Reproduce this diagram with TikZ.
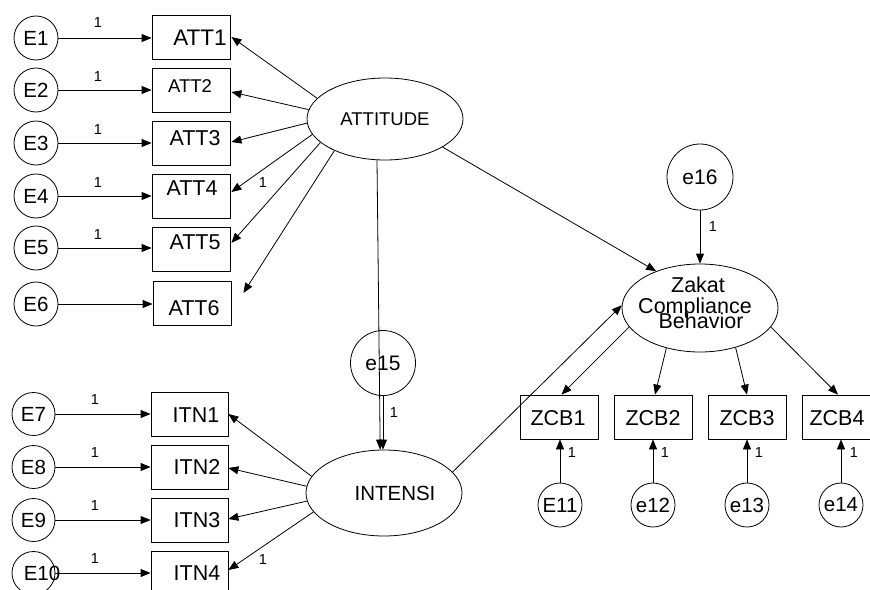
\documentclass[tikz,border=0pt]{standalone}
\usepackage{fontspec}
\setmainfont{Liberation Sans}
\usetikzlibrary{arrows.meta,calc,shapes.geometric}
\begin{document}
\begin{tikzpicture}[x=1pt,y=-1pt,
  every node/.style={inner sep=0pt},
  obs/.style={draw, rectangle, minimum width=78pt, minimum height=44pt, line width=0.8pt},
  errc/.style={draw, circle, minimum size=44pt, line width=0.8pt, font=\fontsize{20.5}{22}\selectfont},
  bigc/.style={draw, circle, minimum size=65pt, line width=0.8pt, font=\fontsize{21}{22}\selectfont},
  lat/.style={draw, ellipse, minimum width=156pt, line width=0.8pt},
  txt/.style={font=\fontsize{21.5}{22}\selectfont},
  one/.style={font=\fontsize{14.5}{16}\selectfont},
  arr/.style={line width=0.8pt, -{Triangle[length=10pt,width=8pt]}}]
\useasboundingbox (0,0) rectangle (870,589);
\fill[white] (0,0) rectangle (870,589);

% ATTITUDE block
\node[lat, minimum height=82pt, font=\fontsize{18.5}{20}\selectfont] (attitude) at (385,119) {ATTITUDE};
\foreach \i/\y in {1/38,2/90,3/143,4/196,5/248,6/304}{
  \node[errc] (e\i) at (36,\y) {E\i};
}
\node[obs] (att1) at (191,37) {};
\node[obs] (att2) at (191,90) {};
\node[obs] (att3) at (191,143.5) {};
\node[obs] (att4) at (191,196) {};
\node[obs] (att5) at (191,249) {};
\node[obs] (att6) at (192,303.5) {};
\node[font=\fontsize{22.5}{24}\selectfont] (tatt1) at (200,38) {ATT1};
\node[font=\fontsize{18.5}{20}\selectfont] (tatt2) at (190,86) {ATT2};
\node[txt] (tatt3) at (195,138) {ATT3};
\node[txt] (tatt4) at (192,188) {ATT4};
\node[txt] (tatt5) at (195,242) {ATT5};
\node[txt] (tatt6) at (194,308) {ATT6};
\foreach \i in {1,...,6}{
  \draw[arr] (e\i.east) -- (e\i.east -| att\i.west);
}
\foreach \i/\y in {1/23,2/77,3/130,4/183,5/235}{
  \node[one] (l\i) at (98,\y) {1};
}
\draw[arr] (attitude.163) -- ($(att1.east)+(1,0)$);
\draw[arr] (attitude.173) -- ($(att2.east)+(1,2)$);
\draw[arr] (attitude.183) -- ($(att3.east)+(1,-1.5)$);
\draw[arr] (attitude.192) -- ($(att4.east)+(1,-4)$);
\draw[arr] (attitude.200) -- ($(att5.east)+(1,-6)$);
\coordinate (att6tip) at ($(att6.east)+(12,-10.5)$);
\draw[arr] (attitude.212) -- (att6tip);
\node[one] (l4b) at (263,183) {1};

% INTENSI block
\node[lat, minimum height=86pt] (intensi) at (384,493) {};
\node[font=\fontsize{20.5}{22}\selectfont] (tintensi) at (395,493) {INTENSI};
\node[bigc] (e15) at (383,363) {e15};
\node[errc, minimum size=43pt] (e7) at (33.5,414) {E7};
\node[errc, minimum size=43pt] (e8) at (33.5,467) {E8};
\node[errc, minimum size=43pt] (e9) at (33.5,520) {E9};
\node[errc, minimum size=43pt] (e10) at (33.5,573) {};
\node[font=\fontsize{20.5}{22}\selectfont] (te10) at (42,573) {E10};
\node[obs, minimum width=77pt] (itn1) at (189.5,414) {};
\node[obs, minimum width=77pt] (itn2) at (189.5,467) {};
\node[obs, minimum width=77pt] (itn3) at (189.5,520) {};
\node[obs, minimum width=77pt] (itn4) at (189.5,573) {};
\node[txt] (titn1) at (196,415) {ITN1};
\node[txt] (titn2) at (197,467) {ITN2};
\node[txt] (titn3) at (197,520) {ITN3};
\node[txt] (titn4) at (197,573) {ITN4};
\foreach \a/\b in {7/1,8/2,9/3,10/4}{
  \draw[arr] (e\a.east) -- (e\a.east -| itn\b.west);
}
\foreach \i/\y in {1/400,2/453,3/506,4/559}{
  \node[one] (m\i) at (95,\y) {1};
}
\draw[arr] (intensi.167) -- (itn1.east);
\draw[arr] (intensi.175) -- ($(itn2.east)+(0,1)$);
\draw[arr] (intensi.186) -- ($(itn3.east)+(0,-1)$);
\draw[arr] (intensi.195) -- ($(itn4.east)+(0,-3)$);
\node[one] (m4b) at (263,560) {1};

\draw[arr] (attitude.259) -- (intensi.95);
\draw[arr] (e15.south) -- (e15.south |- intensi.north);
\node[one] (l15) at (394,413) {1};

% Zakat block
\node[lat, minimum height=88pt] (zakat) at (700,308) {};
\node[txt, anchor=base] (tz1) at (698,292) {Zakat};
\node[txt, anchor=base] (tz2) at (695,313) {Compliance};
\node[txt, anchor=base] (tz3) at (701,328) {Behavior};
\node[bigc, minimum size=66pt] (e16) at (700,177) {e16};
\draw[arr] (e16.south) -- (zakat.north);
\node[one] (l16) at (713,227) {1};
\draw[arr] (attitude.334) -- (zakat.140);
\draw[arr] (intensi.17) -- (zakat.178);

\node[obs] (zcb1) at (559.5,417) {};
\node[obs] (zcb2) at (653,417) {};
\node[obs] (zcb3) at (747,417) {};
\node[obs] (zcb4) at (841,417) {};
\node[txt] (tzcb1) at (558,418) {ZCB1};
\node[txt] (tzcb2) at (653,418) {ZCB2};
\node[txt] (tzcb3) at (747,418) {ZCB3};
\node[txt] (tzcb4) at (837,418) {ZCB4};
\node[errc] (e11) at (560,505) {E11};
\node[errc] (e12) at (653,505) {e12};
\node[errc] (e13) at (747,505) {e13};
\node[errc] (e14) at (841,505) {e14};
\foreach \i in {1,2,3,4}{
  \pgfmathtruncatemacro{\j}{\i+10}
  \draw[arr] (e\j.north) -- (e\j.north |- zcb\i.south);
}
\node[one] (n1) at (572,453) {1};
\node[one] (n2) at (665,453) {1};
\node[one] (n3) at (759,453) {1};
\node[one] (n4) at (854,453) {1};
\draw[arr] (zakat.195) -- ($(zcb1.north)+(2,0)$);
\draw[arr] (zakat.230) -- ($(zcb2.north)+(2,0)$);
\draw[arr] (zakat.312) -- (zcb3.north);
\draw[arr] (zakat.345) -- ($(zcb4.north)+(-3,0)$);
\end{tikzpicture}
\end{document}
